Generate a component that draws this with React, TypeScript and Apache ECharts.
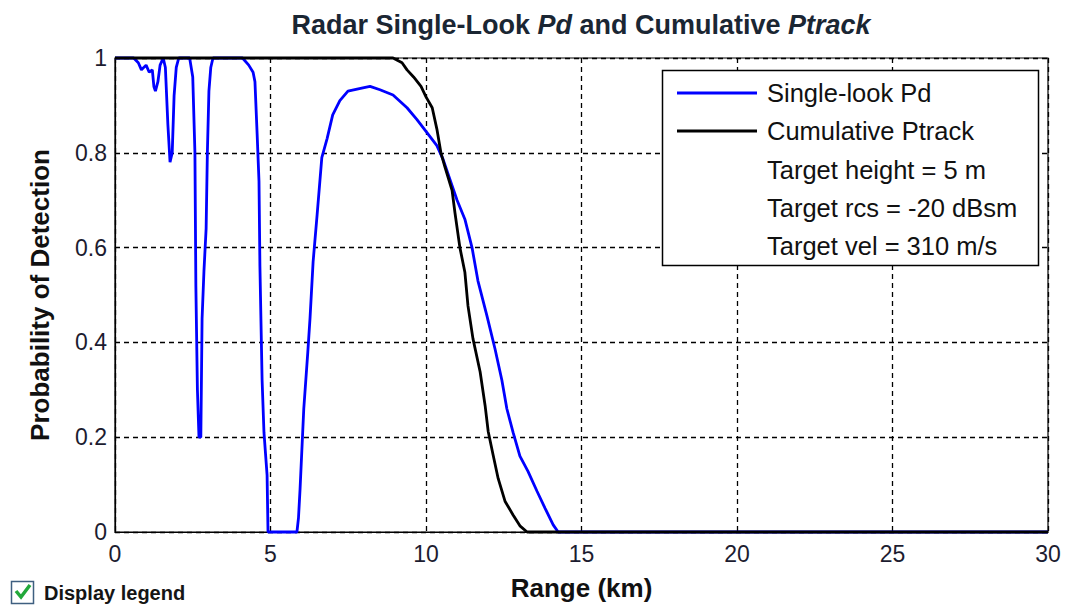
import React, { useEffect, useRef } from "react";
import * as echarts from "echarts";

const pdRange = [
  0, 0.6, 0.75, 0.85, 1.0, 1.1, 1.2, 1.25, 1.3, 1.38, 1.45, 1.55, 1.62, 1.7, 1.77, 1.84, 1.9, 1.97, 2.05,
  2.4, 2.5, 2.57, 2.6, 2.65, 2.7, 2.76, 2.8, 2.86, 2.93, 2.97, 3.02, 3.08, 3.15,
  4.1, 4.3, 4.44, 4.5, 4.57, 4.63, 4.66, 4.73, 4.79, 4.89, 4.92,
  5.85, 5.9, 5.95, 6.07, 6.2, 6.27, 6.37, 6.5, 6.65, 6.82, 7.0, 7.23, 7.49, 7.97, 8.2, 8.52, 8.94,
  9.39, 9.71, 10.0, 10.35, 10.55, 10.77, 11.0, 11.25, 11.48, 11.67, 11.96, 12.22, 12.44, 12.6, 12.8,
  13.02, 13.28, 13.57, 13.83, 14.09, 14.25, 30,
];
const pdValue = [
  1, 1, 0.99, 0.975, 0.985, 0.97, 0.975, 0.94, 0.93, 0.95, 0.985, 1, 0.98, 0.86, 0.78, 0.8, 0.92, 0.98, 1,
  1, 0.96, 0.8, 0.52, 0.3, 0.2, 0.2, 0.45, 0.55, 0.64, 0.8, 0.93, 0.98, 1,
  1, 0.985, 0.97, 0.95, 0.84, 0.74, 0.56, 0.32, 0.21, 0.12, 0,
  0, 0.03, 0.09, 0.26, 0.38, 0.45, 0.57, 0.67, 0.79, 0.83, 0.88, 0.91, 0.93, 0.937, 0.94, 0.933, 0.922,
  0.895, 0.87, 0.845, 0.815, 0.786, 0.744, 0.7, 0.66, 0.6, 0.53, 0.456, 0.386, 0.32, 0.26, 0.21,
  0.16, 0.128, 0.086, 0.05, 0.015, 0, 0,
];

const trackRange = [
  0, 8.94, 9.23, 9.39, 9.6, 9.84, 10.0, 10.2, 10.35, 10.48, 10.61, 10.84, 10.93, 11.09, 11.25, 11.35,
  11.51, 11.74, 11.9, 12.0, 12.16, 12.32, 12.54, 12.8, 13.02, 13.25, 30,
];
const trackValue = [
  1, 1, 0.99, 0.975, 0.96, 0.94, 0.918, 0.895, 0.85, 0.8, 0.77, 0.72, 0.674, 0.6, 0.548, 0.477,
  0.408, 0.338, 0.267, 0.212, 0.162, 0.113, 0.065, 0.036, 0.013, 0, 0,
];

const seriesNames = ["Single-look Pd", "Cumulative Ptrack"];
const legendNotes = ["Target height = 5 m", "Target rcs = -20 dBsm", "Target vel = 310 m/s"];

const FONT = "'Liberation Sans', Arial, sans-serif";
const TEXT = "#1c1c30";

export default function App() {
  const ref = useRef<HTMLDivElement>(null);

  useEffect(() => {
    document.body.style.margin = "0";
    if (!ref.current) return;
    const chart = echarts.init(ref.current, undefined, { renderer: "svg" });
    const pdData = pdRange.map((x, i) => [x, pdValue[i]]);
    const trackData = trackRange.map((x, i) => [x, trackValue[i]]);

    const noteTexts = legendNotes.map((t, i) => ({
      type: "text",
      z: 30,
      x: 767,
      y: 170 + i * 38,
      style: {
        text: t,
        font: `25.5px ${FONT}`,
        fill: "#111",
        textVerticalAlign: "middle",
        verticalAlign: "middle",
      },
    }));

    chart.setOption({
      animation: false,
      backgroundColor: "#ffffff",
      textStyle: { fontFamily: FONT },
      title: {
        text: "{a|Radar Single-Look }{b|Pd}{a| and Cumulative }{b|Ptrack}",
        left: 581,
        top: 11,
        padding: 0,
        textAlign: "center",
        textStyle: {
          rich: {
            a: { fontFamily: FONT, fontSize: 27, fontWeight: "bold", color: "#1a2633" },
            b: { fontFamily: FONT, fontSize: 27, fontWeight: "bold", fontStyle: "italic", color: "#1a2633" },
          },
        },
      },
      grid: {
        left: 115,
        right: 17,
        top: 58,
        bottom: 72,
        show: true,
        borderColor: "#000",
        borderWidth: 1.2,
        backgroundColor: "#fff",
      },
      xAxis: {
        type: "value",
        min: 0,
        max: 30,
        interval: 5,
        name: "Range (km)",
        nameLocation: "middle",
        nameGap: 43,
        nameTextStyle: { fontFamily: FONT, fontSize: 26, fontWeight: "bold", color: "#111" },
        axisLine: { show: true, lineStyle: { color: "#000", width: 1.2 } },
        axisTick: { show: false },
        axisLabel: { fontFamily: FONT, fontSize: 23, color: TEXT, margin: 10 },
        splitLine: { show: true, lineStyle: { color: "#000", type: [5, 4], width: 1.3 } },
      },
      yAxis: {
        type: "value",
        min: 0,
        max: 1,
        interval: 0.2,
        name: "Probability of Detection",
        nameLocation: "middle",
        nameGap: 62,
        nameTextStyle: { fontFamily: FONT, fontSize: 26, fontWeight: "bold", color: "#111" },
        axisLine: { show: true, lineStyle: { color: "#000", width: 1.2 } },
        axisTick: { show: false },
        axisLabel: { fontFamily: FONT, fontSize: 23, color: TEXT, margin: 8 },
        splitLine: { show: true, lineStyle: { color: "#000", type: [5, 4], width: 1.3 } },
      },
      legend: {
        data: seriesNames,
        orient: "vertical",
        left: 677,
        top: 78,
        padding: 0,
        itemGap: 8,
        itemWidth: 80,
        itemHeight: 3,
        icon: "rect",
        z: 20,
        selectedMode: false,
        textStyle: { fontFamily: FONT, fontSize: 25.5, color: "#111", lineHeight: 30, padding: [0, 0, 0, 5] },
      },
      graphic: [
        {
          type: "rect",
          z: 10,
          shape: { x: 662.5, y: 70.5, width: 376, height: 195 },
          style: { fill: "#fff", stroke: "#000", lineWidth: 1.5 },
        },
        ...noteTexts,
        {
          type: "rect",
          z: 30,
          shape: { x: 11.5, y: 581.5, width: 22, height: 22 },
          style: { fill: "#fff", stroke: "#3f5f80", lineWidth: 1.5 },
        },
        {
          type: "polyline",
          z: 31,
          shape: { points: [[16, 591], [21, 597], [30, 585]] },
          style: { stroke: "#22a83a", lineWidth: 3.5, fill: null },
        },
        {
          type: "text",
          z: 30,
          x: 44,
          y: 593,
          style: {
            text: "Display legend",
            font: `bold 20px ${FONT}`,
            fill: "#151515",
            textVerticalAlign: "middle",
            verticalAlign: "middle",
          },
        },
      ],
      series: [
        {
          name: seriesNames[0],
          type: "line",
          data: pdData,
          showSymbol: false,
          symbol: "none",
          clip: false,
          z: 3,
          lineStyle: { color: "#0000ff", width: 2.8 },
          itemStyle: { color: "#0000ff" },
        },
        {
          name: seriesNames[1],
          type: "line",
          data: trackData,
          showSymbol: false,
          symbol: "none",
          clip: false,
          z: 4,
          lineStyle: { color: "#000000", width: 2.8 },
          itemStyle: { color: "#000000" },
        },
      ],
    });
    return () => chart.dispose();
  }, []);

  return <div ref={ref} style={{ width: 1065, height: 606 }} />;
}
